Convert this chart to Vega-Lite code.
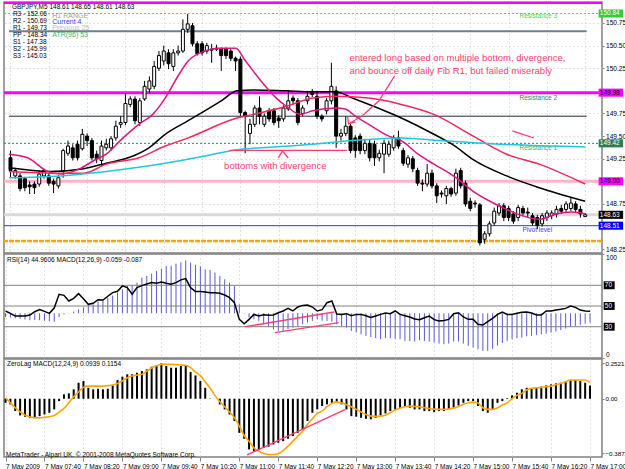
{
"$schema":"https://vega.github.io/schema/vega-lite/v6.json",
"padding":{"left":1,"top":1,"right":0,"bottom":0},
"background":"white",
"spacing":1,
"bounds":"flush",
"config":{"view":{"stroke":"#808080","strokeWidth":1.5},"font":"Liberation Sans","axis":{"labelFont":"Liberation Sans","labelFontSize":6.6,"labelColor":"#000000","tickColor":"#808080","tickSize":2,"labelPadding":1.5,"domain":false,"gridColor":"#c4c4c4","gridDash":[1,3],"title":null},"axisX":{"labelOverlap":false},"text":{"font":"Liberation Sans"}},
"datasets":{
"ohlc":[
{"i":0,"o":149.26,"h":149.34,"l":149.04,"c":149.12,"r":45.2,"m":-0.023,"z":-0.029,"s":0.007},
{"i":1,"o":149.06,"h":149.15,"l":149.03,"c":149.12,"r":42.9,"m":-0.027,"z":-0.040,"s":-0.029},
{"i":2,"o":149.06,"h":149.09,"l":148.89,"c":148.92,"r":40.3,"m":-0.032,"z":-0.088,"s":-0.064},
{"i":3,"o":149.03,"h":149.05,"l":148.89,"c":148.93,"r":40.3,"m":-0.034,"z":-0.119,"s":-0.093},
{"i":4,"o":148.96,"h":149.00,"l":148.86,"c":148.94,"r":40.3,"m":-0.040,"z":-0.128,"s":-0.117},
{"i":5,"o":148.97,"h":149.00,"l":148.86,"c":148.93,"r":41.3,"m":-0.044,"z":-0.136,"s":-0.128},
{"i":6,"o":148.97,"h":149.12,"l":148.94,"c":149.08,"r":44.5,"m":-0.042,"z":-0.136,"s":-0.136},
{"i":7,"o":149.06,"h":149.14,"l":149.03,"c":149.12,"r":46.5,"m":-0.044,"z":-0.124,"s":-0.136},
{"i":8,"o":149.06,"h":149.09,"l":148.95,"c":148.98,"r":44.8,"m":-0.048,"z":-0.112,"s":-0.133},
{"i":9,"o":149.00,"h":149.03,"l":148.87,"c":148.97,"r":42.9,"m":-0.051,"z":-0.100,"s":-0.128},
{"i":10,"o":148.95,"h":149.07,"l":148.92,"c":149.04,"r":48.0,"m":-0.055,"z":-0.076,"s":-0.119},
{"i":11,"o":149.12,"h":149.36,"l":149.04,"c":149.34,"r":61.3,"m":-0.023,"z":-0.017,"s":-0.095},
{"i":12,"o":149.31,"h":149.45,"l":149.28,"c":149.39,"r":60.3,"m":-0.008,"z":0.031,"s":-0.069},
{"i":13,"o":149.37,"h":149.41,"l":149.23,"c":149.26,"r":54.8,"m":0.002,"z":0.038,"s":-0.029},
{"i":14,"o":149.41,"h":149.45,"l":149.23,"c":149.26,"r":57.4,"m":0.011,"z":0.067,"s":0.014},
{"i":15,"o":149.36,"h":149.58,"l":149.34,"c":149.52,"r":61.9,"m":0.025,"z":0.114,"s":0.048},
{"i":16,"o":149.50,"h":149.53,"l":149.39,"c":149.45,"r":57.1,"m":0.036,"z":0.126,"s":0.081},
{"i":17,"o":149.45,"h":149.48,"l":149.23,"c":149.26,"r":51.6,"m":0.053,"z":0.078,"s":0.090},
{"i":18,"o":149.30,"h":149.34,"l":149.20,"c":149.25,"r":52.6,"m":0.057,"z":0.067,"s":0.090},
{"i":19,"o":149.23,"h":149.45,"l":149.17,"c":149.39,"r":56.1,"m":0.074,"z":0.071,"s":0.090},
{"i":20,"o":149.37,"h":149.47,"l":149.34,"c":149.41,"r":55.8,"m":0.088,"z":0.067,"s":0.090},
{"i":21,"o":149.37,"h":149.50,"l":149.34,"c":149.47,"r":59.4,"m":0.099,"z":0.071,"s":0.093},
{"i":22,"o":149.48,"h":149.67,"l":149.45,"c":149.61,"r":62.9,"m":0.112,"z":0.095,"s":0.098},
{"i":23,"o":149.63,"h":149.72,"l":149.59,"c":149.65,"r":64.2,"m":0.131,"z":0.133,"s":0.109},
{"i":24,"o":149.65,"h":149.97,"l":149.62,"c":149.86,"r":69.4,"m":0.152,"z":0.157,"s":0.128},
{"i":25,"o":149.85,"h":149.94,"l":149.82,"c":149.91,"r":67.7,"m":0.173,"z":0.174,"s":0.150},
{"i":26,"o":149.91,"h":149.94,"l":149.63,"c":149.67,"r":61.3,"m":0.177,"z":0.174,"s":0.162},
{"i":27,"o":149.65,"h":149.92,"l":149.61,"c":149.89,"r":67.7,"m":0.194,"z":0.185,"s":0.169},
{"i":28,"o":149.91,"h":150.11,"l":149.89,"c":150.05,"r":69.7,"m":0.225,"z":0.197,"s":0.174},
{"i":29,"o":150.02,"h":150.16,"l":149.98,"c":150.11,"r":71.3,"m":0.236,"z":0.209,"s":0.197},
{"i":30,"o":150.05,"h":150.33,"l":150.02,"c":150.27,"r":72.6,"m":0.251,"z":0.228,"s":0.219},
{"i":31,"o":150.25,"h":150.44,"l":150.22,"c":150.39,"r":71.9,"m":0.268,"z":0.238,"s":0.235},
{"i":32,"o":150.33,"h":150.50,"l":150.28,"c":150.44,"r":73.2,"m":0.282,"z":0.252,"s":0.245},
{"i":33,"o":150.42,"h":150.46,"l":150.24,"c":150.30,"r":71.9,"m":0.299,"z":0.233,"s":0.245},
{"i":34,"o":150.27,"h":150.46,"l":150.22,"c":150.42,"r":71.0,"m":0.301,"z":0.221,"s":0.245},
{"i":35,"o":150.42,"h":150.50,"l":150.39,"c":150.44,"r":72.6,"m":0.314,"z":0.221,"s":0.243},
{"i":36,"o":150.44,"h":150.79,"l":150.42,"c":150.68,"r":75.2,"m":0.322,"z":0.233,"s":0.240},
{"i":37,"o":150.68,"h":150.85,"l":150.64,"c":150.74,"r":76.5,"m":0.335,"z":0.233,"s":0.238},
{"i":38,"o":150.72,"h":150.75,"l":150.49,"c":150.52,"r":67.7,"m":0.320,"z":0.190,"s":0.221},
{"i":39,"o":150.52,"h":150.55,"l":150.39,"c":150.41,"r":63.9,"m":0.306,"z":0.166,"s":0.190},
{"i":40,"o":150.52,"h":150.55,"l":150.39,"c":150.42,"r":63.9,"m":0.297,"z":0.126,"s":0.166},
{"i":41,"o":150.44,"h":150.53,"l":150.41,"c":150.50,"r":63.5,"m":0.278,"z":0.078,"s":0.119},
{"i":42,"o":150.45,"h":150.52,"l":150.31,"c":150.46,"r":62.9,"m":0.274,"z":0.002,"s":0.076},
{"i":43,"o":150.46,"h":150.51,"l":150.44,"c":150.47,"r":62.9,"m":0.257,"z":0.000,"s":0.024},
{"i":44,"o":150.46,"h":150.48,"l":150.22,"c":150.39,"r":62.3,"m":0.236,"z":-0.040,"s":-0.021},
{"i":45,"o":150.46,"h":150.48,"l":150.35,"c":150.39,"r":60.6,"m":0.215,"z":-0.076,"s":-0.057},
{"i":46,"o":150.44,"h":150.46,"l":150.33,"c":150.36,"r":58.1,"m":0.194,"z":-0.112,"s":-0.095},
{"i":47,"o":150.36,"h":150.38,"l":150.22,"c":150.33,"r":53.2,"m":0.173,"z":-0.159,"s":-0.136},
{"i":48,"o":150.35,"h":150.38,"l":149.72,"c":149.76,"r":37.1,"m":0.057,"z":-0.243,"s":-0.195},
{"i":49,"o":149.76,"h":149.78,"l":149.31,"c":149.72,"r":32.9,"m":-0.002,"z":-0.285,"s":-0.262},
{"i":50,"o":149.53,"h":149.69,"l":149.41,"c":149.63,"r":37.1,"m":-0.027,"z":-0.361,"s":-0.302},
{"i":51,"o":149.63,"h":149.84,"l":149.60,"c":149.81,"r":41.9,"m":-0.038,"z":-0.373,"s":-0.350},
{"i":52,"o":149.81,"h":149.94,"l":149.63,"c":149.72,"r":40.3,"m":-0.048,"z":-0.366,"s":-0.373},
{"i":53,"o":149.63,"h":149.75,"l":149.60,"c":149.72,"r":41.6,"m":-0.070,"z":-0.350,"s":-0.390},
{"i":54,"o":149.78,"h":149.81,"l":149.66,"c":149.69,"r":41.0,"m":-0.086,"z":-0.342,"s":-0.397},
{"i":55,"o":149.78,"h":149.81,"l":149.62,"c":149.65,"r":41.3,"m":-0.101,"z":-0.326,"s":-0.397},
{"i":56,"o":149.70,"h":149.73,"l":149.59,"c":149.67,"r":43.5,"m":-0.112,"z":-0.314,"s":-0.392},
{"i":57,"o":149.69,"h":149.84,"l":149.66,"c":149.81,"r":45.2,"m":-0.112,"z":-0.302,"s":-0.369},
{"i":58,"o":149.80,"h":150.01,"l":149.78,"c":149.89,"r":47.7,"m":-0.101,"z":-0.285,"s":-0.338},
{"i":59,"o":149.92,"h":149.95,"l":149.85,"c":149.89,"r":45.2,"m":-0.091,"z":-0.266,"s":-0.302},
{"i":60,"o":149.89,"h":149.92,"l":149.62,"c":149.65,"r":49.0,"m":-0.080,"z":-0.243,"s":-0.266},
{"i":61,"o":149.75,"h":149.84,"l":149.72,"c":149.81,"r":50.6,"m":-0.070,"z":-0.219,"s":-0.231},
{"i":62,"o":149.89,"h":150.00,"l":149.85,"c":149.94,"r":51.0,"m":-0.059,"z":-0.159,"s":-0.183},
{"i":63,"o":149.98,"h":150.02,"l":149.93,"c":149.96,"r":49.0,"m":-0.048,"z":-0.100,"s":-0.143},
{"i":64,"o":149.94,"h":150.00,"l":149.69,"c":149.72,"r":45.2,"m":-0.038,"z":-0.076,"s":-0.105},
{"i":65,"o":149.72,"h":149.74,"l":149.66,"c":149.69,"r":46.5,"m":-0.048,"z":-0.052,"s":-0.088},
{"i":66,"o":149.78,"h":149.92,"l":149.74,"c":149.89,"r":53.2,"m":-0.048,"z":-0.040,"s":-0.057},
{"i":67,"o":149.89,"h":150.31,"l":149.85,"c":150.05,"r":54.8,"m":-0.053,"z":-0.029,"s":-0.033},
{"i":68,"o":150.00,"h":150.05,"l":149.37,"c":149.50,"r":42.3,"m":-0.070,"z":-0.020,"s":-0.024},
{"i":69,"o":149.50,"h":149.58,"l":149.45,"c":149.53,"r":41.9,"m":-0.082,"z":-0.040,"s":-0.031},
{"i":70,"o":149.53,"h":149.72,"l":149.50,"c":149.61,"r":42.6,"m":-0.091,"z":-0.076,"s":-0.043},
{"i":71,"o":149.61,"h":149.64,"l":149.31,"c":149.34,"r":40.6,"m":-0.112,"z":-0.124,"s":-0.057},
{"i":72,"o":149.48,"h":149.51,"l":149.26,"c":149.34,"r":41.9,"m":-0.122,"z":-0.128,"s":-0.076},
{"i":73,"o":149.50,"h":149.53,"l":149.30,"c":149.34,"r":41.9,"m":-0.133,"z":-0.136,"s":-0.095},
{"i":74,"o":149.34,"h":149.47,"l":149.30,"c":149.42,"r":40.6,"m":-0.143,"z":-0.143,"s":-0.112},
{"i":75,"o":149.42,"h":149.46,"l":149.22,"c":149.26,"r":39.0,"m":-0.150,"z":-0.147,"s":-0.124},
{"i":76,"o":149.41,"h":149.45,"l":149.17,"c":149.26,"r":40.3,"m":-0.158,"z":-0.136,"s":-0.126},
{"i":77,"o":149.26,"h":149.35,"l":149.22,"c":149.31,"r":41.9,"m":-0.164,"z":-0.119,"s":-0.124},
{"i":78,"o":149.30,"h":149.46,"l":149.09,"c":149.42,"r":43.2,"m":-0.158,"z":-0.105,"s":-0.117},
{"i":79,"o":149.30,"h":149.45,"l":149.27,"c":149.41,"r":42.6,"m":-0.158,"z":-0.088,"s":-0.100},
{"i":80,"o":149.37,"h":149.51,"l":149.34,"c":149.48,"r":45.2,"m":-0.162,"z":-0.076,"s":-0.081},
{"i":81,"o":149.48,"h":149.56,"l":149.36,"c":149.39,"r":41.9,"m":-0.164,"z":-0.064,"s":-0.067},
{"i":82,"o":149.34,"h":149.37,"l":149.17,"c":149.20,"r":40.6,"m":-0.175,"z":-0.057,"s":-0.057},
{"i":83,"o":149.19,"h":149.29,"l":149.15,"c":149.26,"r":39.4,"m":-0.175,"z":-0.064,"s":-0.052},
{"i":84,"o":149.25,"h":149.28,"l":149.10,"c":149.14,"r":37.4,"m":-0.179,"z":-0.076,"s":-0.055},
{"i":85,"o":149.12,"h":149.15,"l":148.95,"c":148.98,"r":36.8,"m":-0.171,"z":-0.076,"s":-0.057},
{"i":86,"o":148.98,"h":149.02,"l":148.89,"c":148.97,"r":38.7,"m":-0.175,"z":-0.088,"s":-0.064},
{"i":87,"o":148.97,"h":149.19,"l":148.94,"c":149.09,"r":40.3,"m":-0.179,"z":-0.088,"s":-0.069},
{"i":88,"o":149.09,"h":149.13,"l":148.92,"c":148.95,"r":36.8,"m":-0.185,"z":-0.095,"s":-0.074},
{"i":89,"o":148.95,"h":148.98,"l":148.76,"c":148.84,"r":35.5,"m":-0.192,"z":-0.088,"s":-0.076},
{"i":90,"o":148.87,"h":148.90,"l":148.82,"c":148.86,"r":36.1,"m":-0.196,"z":-0.088,"s":-0.076},
{"i":91,"o":148.84,"h":148.95,"l":148.75,"c":148.92,"r":37.1,"m":-0.192,"z":-0.076,"s":-0.074},
{"i":92,"o":148.92,"h":148.94,"l":148.83,"c":148.86,"r":42.6,"m":-0.179,"z":-0.064,"s":-0.067},
{"i":93,"o":148.87,"h":149.14,"l":148.84,"c":149.09,"r":43.5,"m":-0.179,"z":-0.048,"s":-0.055},
{"i":94,"o":149.12,"h":149.15,"l":148.92,"c":148.95,"r":39.4,"m":-0.192,"z":-0.029,"s":-0.040},
{"i":95,"o":148.98,"h":149.01,"l":148.72,"c":148.75,"r":37.1,"m":-0.206,"z":-0.017,"s":-0.029},
{"i":96,"o":148.78,"h":148.82,"l":148.67,"c":148.70,"r":37.1,"m":-0.217,"z":-0.017,"s":-0.024},
{"i":97,"o":148.76,"h":148.79,"l":148.71,"c":148.75,"r":32.3,"m":-0.228,"z":-0.052,"s":-0.031},
{"i":98,"o":148.74,"h":148.76,"l":148.29,"c":148.32,"r":31.6,"m":-0.238,"z":-0.088,"s":-0.064},
{"i":99,"o":148.36,"h":148.45,"l":148.31,"c":148.42,"r":34.8,"m":-0.238,"z":-0.100,"s":-0.076},
{"i":100,"o":148.42,"h":148.56,"l":148.39,"c":148.53,"r":38.1,"m":-0.225,"z":-0.076,"s":-0.076},
{"i":101,"o":148.54,"h":148.71,"l":148.51,"c":148.67,"r":41.9,"m":-0.204,"z":-0.029,"s":-0.064},
{"i":102,"o":148.65,"h":148.76,"l":148.62,"c":148.73,"r":44.2,"m":-0.188,"z":-0.017,"s":-0.045},
{"i":103,"o":148.73,"h":148.76,"l":148.56,"c":148.60,"r":41.9,"m":-0.175,"z":0.005,"s":-0.029},
{"i":104,"o":148.70,"h":148.73,"l":148.56,"c":148.60,"r":41.9,"m":-0.164,"z":0.024,"s":0.000},
{"i":105,"o":148.64,"h":148.67,"l":148.53,"c":148.56,"r":42.9,"m":-0.158,"z":0.043,"s":0.024},
{"i":106,"o":148.60,"h":148.74,"l":148.56,"c":148.71,"r":43.9,"m":-0.154,"z":0.067,"s":0.038},
{"i":107,"o":148.70,"h":148.73,"l":148.62,"c":148.65,"r":44.2,"m":-0.145,"z":0.078,"s":0.062},
{"i":108,"o":148.66,"h":148.71,"l":148.60,"c":148.65,"r":43.2,"m":-0.143,"z":0.071,"s":0.074},
{"i":109,"o":148.62,"h":148.65,"l":148.51,"c":148.54,"r":41.3,"m":-0.137,"z":0.078,"s":0.078},
{"i":110,"o":148.60,"h":148.63,"l":148.47,"c":148.51,"r":41.3,"m":-0.133,"z":0.086,"s":0.081},
{"i":111,"o":148.53,"h":148.65,"l":148.50,"c":148.62,"r":45.2,"m":-0.129,"z":0.095,"s":0.086},
{"i":112,"o":148.60,"h":148.68,"l":148.56,"c":148.65,"r":45.2,"m":-0.122,"z":0.102,"s":0.090},
{"i":113,"o":148.62,"h":148.68,"l":148.58,"c":148.65,"r":46.1,"m":-0.116,"z":0.109,"s":0.100},
{"i":114,"o":148.64,"h":148.73,"l":148.60,"c":148.69,"r":46.8,"m":-0.107,"z":0.114,"s":0.109},
{"i":115,"o":148.70,"h":148.74,"l":148.64,"c":148.67,"r":47.7,"m":-0.097,"z":0.126,"s":0.121},
{"i":116,"o":148.69,"h":148.78,"l":148.66,"c":148.75,"r":50.0,"m":-0.086,"z":0.133,"s":0.133},
{"i":117,"o":148.70,"h":148.82,"l":148.67,"c":148.76,"r":48.7,"m":-0.080,"z":0.133,"s":0.133},
{"i":118,"o":148.75,"h":148.78,"l":148.66,"c":148.69,"r":46.1,"m":-0.074,"z":0.126,"s":0.133},
{"i":119,"o":148.69,"h":148.73,"l":148.60,"c":148.64,"r":45.2,"m":-0.065,"z":0.114,"s":0.133},
{"i":120,"o":148.61,"h":148.65,"l":148.61,"c":148.63,"r":44.96,"m":-0.059,"z":0.094,"s":0.115}
],
"ma":[
{"k":"black","i":-0.3,"v":149.15},{"k":"black","i":8.3,"v":149.11},{"k":"black","i":15.3,"v":149.14},{"k":"black","i":20,"v":149.20},{"k":"black","i":25.6,"v":149.28},{"k":"black","i":28.9,"v":149.37},{"k":"black","i":32.3,"v":149.52},{"k":"black","i":37.1,"v":149.67},{"k":"black","i":44,"v":149.89},{"k":"black","i":47.3,"v":150.00},{"k":"black","i":50.8,"v":150.01},{"k":"black","i":57.6,"v":150.00},{"k":"black","i":63.1,"v":149.99},{"k":"black","i":67.9,"v":149.99},{"k":"black","i":71.4,"v":149.92},{"k":"black","i":78.1,"v":149.78},{"k":"black","i":81.6,"v":149.70},{"k":"black","i":88.4,"v":149.52},{"k":"black","i":92.5,"v":149.40},{"k":"black","i":96.6,"v":149.24},{"k":"black","i":103.6,"v":149.06},{"k":"black","i":110.4,"v":148.93},{"k":"black","i":120,"v":148.78},
{"k":"pink","i":-0.3,"v":149.30},{"k":"pink","i":3.6,"v":149.26},{"k":"pink","i":7.7,"v":149.11},{"k":"pink","i":10.4,"v":149.08},{"k":"pink","i":14.5,"v":149.14},{"k":"pink","i":17.4,"v":149.23},{"k":"pink","i":20,"v":149.30},{"k":"pink","i":23.5,"v":149.48},{"k":"pink","i":26.8,"v":149.63},{"k":"pink","i":29.7,"v":149.74},{"k":"pink","i":32.3,"v":149.92},{"k":"pink","i":35.4,"v":150.20},{"k":"pink","i":37.1,"v":150.33},{"k":"pink","i":40.6,"v":150.44},{"k":"pink","i":43.2,"v":150.47},{"k":"pink","i":47.1,"v":150.47},{"k":"pink","i":48.8,"v":150.35},{"k":"pink","i":52.3,"v":150.11},{"k":"pink","i":55.5,"v":149.92},{"k":"pink","i":57.6,"v":149.83},{"k":"pink","i":60.5,"v":149.74},{"k":"pink","i":63.1,"v":149.78},{"k":"pink","i":67.9,"v":149.81},{"k":"pink","i":69.9,"v":149.80},{"k":"pink","i":72,"v":149.72},{"k":"pink","i":74.8,"v":149.63},{"k":"pink","i":79,"v":149.50},{"k":"pink","i":81.6,"v":149.45},{"k":"pink","i":85.1,"v":149.30},{"k":"pink","i":88.4,"v":149.19},{"k":"pink","i":91.9,"v":149.08},{"k":"pink","i":93.3,"v":149.03},{"k":"pink","i":96.6,"v":148.89},{"k":"pink","i":100.1,"v":148.78},{"k":"pink","i":103.6,"v":148.69},{"k":"pink","i":106.9,"v":148.62},{"k":"pink","i":110.4,"v":148.58},{"k":"pink","i":113.9,"v":148.64},{"k":"pink","i":117.2,"v":148.66},{"k":"pink","i":120,"v":148.64},
{"k":"red","i":-0.3,"v":149.11},{"k":"red","i":10.4,"v":149.09},{"k":"red","i":15.3,"v":149.09},{"k":"red","i":20,"v":149.19},{"k":"red","i":26.8,"v":149.26},{"k":"red","i":32.3,"v":149.39},{"k":"red","i":37.1,"v":149.48},{"k":"red","i":47.3,"v":149.70},{"k":"red","i":50.8,"v":149.74},{"k":"red","i":57.6,"v":149.83},{"k":"red","i":63.1,"v":149.92},{"k":"red","i":67.9,"v":149.94},{"k":"red","i":74.8,"v":149.92},{"k":"red","i":81.6,"v":149.85},{"k":"red","i":88.4,"v":149.74},{"k":"red","i":96.6,"v":149.50},{"k":"red","i":103.6,"v":149.30},{"k":"red","i":110.4,"v":149.19},{"k":"red","i":120,"v":148.97},
{"k":"cyan","i":-0.3,"v":149.04},{"k":"cyan","i":10.4,"v":149.06},{"k":"cyan","i":20,"v":149.11},{"k":"cyan","i":32.3,"v":149.20},{"k":"cyan","i":40.6,"v":149.28},{"k":"cyan","i":47.3,"v":149.35},{"k":"cyan","i":55,"v":149.38},{"k":"cyan","i":63.1,"v":149.41},{"k":"cyan","i":71.4,"v":149.45},{"k":"cyan","i":81.6,"v":149.48},{"k":"cyan","i":89.8,"v":149.45},{"k":"cyan","i":102.2,"v":149.41},{"k":"cyan","i":120,"v":149.38}
],
"anno":[
{"g":"arrow","i":70.9,"v":149.645},{"g":"arrow","i":73.4,"v":149.722},{"g":"arrow","i":76.9,"v":149.888},{"g":"arrow","i":78.9,"v":150.054},{"g":"arrow","i":80.2,"v":150.164},
{"g":"head","i":70.4,"v":149.711},{"g":"head","i":70.6,"v":149.634},{"g":"head","i":72.0,"v":149.656},
{"g":"bot","i":45.7,"v":149.343},{"g":"bot","i":70.3,"v":149.343},
{"g":"caret","i":55.9,"v":149.258},{"g":"caret","i":56.8,"v":149.336},{"g":"caret","i":58.0,"v":149.258},
{"g":"short","i":104.8,"v":149.557},{"g":"short","i":109.3,"v":149.479}
],
"ranno":[
{"g":"a","i":49.2,"v":30.0},{"g":"a","i":67.5,"v":44.2},
{"g":"b","i":55.3,"v":24.2},{"g":"b","i":68.4,"v":33.9}
],
"zanno":[
{"g":"a","i":49.6,"v":-0.40},{"g":"a","i":69.8,"v":-0.076}
],
"boxes":[
{"v":150.855,"t":"150.84","k":"g"},
{"v":149.98,"t":"149.98","k":"m"},
{"v":149.42,"t":"149.42","k":"dg"},
{"v":149.00,"t":"149.00","k":"m"},
{"v":148.63,"t":"148.63","k":"k"},
{"v":148.51,"t":"148.51","k":"b"}
],
"rbox":[{"v":70,"t":"70"},{"v":50,"t":"50"},{"v":30,"t":"30"}]
},
"vconcat":[
{
"width":598,"height":251,
"resolve":{"scale":{"color":"independent"}},
"layer":[
{"data":{"values":[{}]},"mark":{"type":"rule","color":"#FF00FF","strokeWidth":2},"encoding":{"y":{"datum":150.972}}},
{"data":{"values":[{}]},"mark":{"type":"rule","color":"#5FD35F","strokeWidth":1,"strokeDash":[2,2]},"encoding":{"y":{"datum":150.855}}},
{"data":{"values":[{}]},"mark":{"type":"rule","color":"#6E7F8F","strokeWidth":2},"encoding":{"x":{"datum":-0.31},"x2":{"datum":120.3},"y":{"datum":150.66}}},
{"data":{"values":[{}]},"mark":{"type":"rule","color":"#FF00FF","strokeWidth":3},"encoding":{"y":{"datum":149.98}}},
{"data":{"values":[{}]},"mark":{"type":"rule","color":"#1C2B45","strokeWidth":1},"encoding":{"x":{"datum":-0.31},"x2":{"datum":120.3},"y":{"datum":149.72}}},
{"data":{"values":[{}]},"mark":{"type":"rule","color":"#2E8B57","strokeWidth":1,"strokeDash":[2,2]},"encoding":{"y":{"datum":149.42}}},
{"data":{"values":[{}]},"mark":{"type":"rule","color":"#FFB3C8","strokeWidth":3},"encoding":{"y":{"datum":149.0}}},
{"data":{"values":[{}]},"mark":{"type":"rule","color":"#D9D9D9","strokeWidth":3},"encoding":{"y":{"datum":148.63}}},
{"data":{"values":[{}]},"mark":{"type":"rule","color":"#3333FF","strokeWidth":1},"encoding":{"y":{"datum":148.51}}},
{"data":{"values":[{}]},"mark":{"type":"rule","color":"#FFA500","strokeWidth":2.5,"strokeDash":[5,1]},"encoding":{"y":{"datum":148.34}}},
{"data":{"name":"ohlc"},"mark":{"type":"rule","color":"#000000","strokeWidth":1},
 "encoding":{
  "x":{"field":"i","type":"quantitative","scale":{"domain":[-0.31,122.46],"nice":false,"zero":false},"axis":{"values":[0,8,16,24,32,40,48,56,64,72,80,88,96,104,112,120],"tickCount":40,"labels":false,"ticks":false,"grid":true}},
  "y":{"field":"l","type":"quantitative","scale":{"domain":[148.208,150.982],"nice":false,"zero":false},"axis":{"orient":"right","values":[148.25,148.75,149.25,149.5,149.75,150.25,150.5,150.75],"tickCount":40,"format":".2f","grid":true}},
  "y2":{"field":"h"}}},
{"data":{"name":"ohlc"},"mark":{"type":"bar","width":3,"stroke":"#000000","strokeWidth":1},
 "encoding":{"x":{"field":"i","type":"quantitative"},"y":{"field":"o","type":"quantitative"},"y2":{"field":"c"},
  "fill":{"condition":{"test":"datum.c < datum.o","value":"#000000"},"value":"#FFFFFF"}}},
{"data":{"name":"ma"},"mark":{"type":"line","strokeWidth":1.5,"interpolate":"monotone"},
 "encoding":{"x":{"field":"i","type":"quantitative"},"y":{"field":"v","type":"quantitative"},
  "color":{"field":"k","type":"nominal","scale":{"domain":["black","pink","red","cyan"],"range":["#000000","#E0157F","#F2285A","#20C8DC"]},"legend":null}}},
{"data":{"name":"anno"},"mark":{"type":"line","color":"#FF3D6E","strokeWidth":1.3},
 "encoding":{"x":{"field":"i","type":"quantitative"},"y":{"field":"v","type":"quantitative"},"detail":{"field":"g","type":"nominal"}}},
{"data":{"values":[{}]},"mark":{"type":"text","text":"GBPJPY,M5  148.61 148.65 148.61 148.63","align":"left","baseline":"middle","fontSize":6.5,"color":"#000000"},"encoding":{"x":{"datum":0.31},"y":{"datum":150.93}}},
{"data":{"values":[{}]},"mark":{"type":"text","text":["R3 - 152.06","R2 - 150.69","R1 - 149.73","PP - 148.34","S1 - 147.38","S2 - 145.99","S3 - 145.03"],"lineHeight":7.1,"align":"left","baseline":"top","fontSize":6.5,"color":"#000000"},"encoding":{"x":{"datum":0.51},"y":{"datum":150.884}}},
{"data":{"values":[{}]},"mark":{"type":"text","text":"H1 RANGE","align":"left","baseline":"middle","fontSize":7,"color":"#A0A0A0"},"encoding":{"x":{"datum":8.73},"y":{"datum":150.831}}},
{"data":{"values":[{}]},"mark":{"type":"text","text":"Current 4","align":"left","baseline":"middle","fontSize":7,"color":"#3B3BFF"},"encoding":{"x":{"datum":8.73},"y":{"datum":150.761}}},
{"data":{"values":[{}]},"mark":{"type":"text","text":"Previous 25","align":"left","baseline":"middle","fontSize":7,"color":"#BDBDBD"},"encoding":{"x":{"datum":8.73},"y":{"datum":150.695}}},
{"data":{"values":[{}]},"mark":{"type":"text","text":"ATR(96) 53","align":"left","baseline":"middle","fontSize":7,"color":"#3CB371"},"encoding":{"x":{"datum":8.73},"y":{"datum":150.621}}},
{"data":{"values":[{}]},"mark":{"type":"text","text":"entered long based on multiple bottom, divergence,","align":"left","baseline":"middle","fontSize":9.5,"color":"#FF4070"},"encoding":{"x":{"datum":70.76},"y":{"datum":150.366}}},
{"data":{"values":[{}]},"mark":{"type":"text","text":"and bounce off daily Fib R1, but failed miserably","align":"left","baseline":"middle","fontSize":9.5,"color":"#FF4070"},"encoding":{"x":{"datum":70.76},"y":{"datum":150.223}}},
{"data":{"values":[{}]},"mark":{"type":"text","text":"bottoms with divergence","align":"left","baseline":"middle","fontSize":9.5,"color":"#FF4070"},"encoding":{"x":{"datum":44.6},"y":{"datum":149.169}}},
{"data":{"values":[{}]},"mark":{"type":"text","text":"Resistance 3","align":"left","baseline":"middle","fontSize":6.5,"color":"#4CD34C"},"encoding":{"x":{"datum":106.29},"y":{"datum":150.827}}},
{"data":{"values":[{}]},"mark":{"type":"text","text":"Resistance 2","align":"left","baseline":"middle","fontSize":6.5,"color":"#2E8B57"},"encoding":{"x":{"datum":106.29},"y":{"datum":149.921}}},
{"data":{"values":[{}]},"mark":{"type":"text","text":"Resistance 1","align":"left","baseline":"middle","fontSize":6.5,"color":"#3CB371"},"encoding":{"x":{"datum":106.29},"y":{"datum":149.368}}},
{"data":{"values":[{}]},"mark":{"type":"text","text":"Pivot level","align":"left","baseline":"middle","fontSize":6.5,"color":"#3B3BFF"},"encoding":{"x":{"datum":106.91},"y":{"datum":148.465}}},
{"data":{"name":"boxes"},"mark":{"type":"point","shape":"M0,-0.33H2V0.33H0Z","size":600,"filled":true,"opacity":1,"strokeWidth":0},
 "encoding":{"x":{"datum":122.8},"y":{"field":"v","type":"quantitative"},
  "color":{"field":"k","type":"nominal","scale":{"domain":["g","m","dg","k","b"],"range":["#3CC83C","#FF00FF","#2E7D4F","#000000","#0000FF"]},"legend":null}}},
{"data":{"name":"boxes"},"mark":{"type":"text","align":"left","baseline":"middle","fontSize":6.5},
 "encoding":{"x":{"datum":123.05},"y":{"field":"v","type":"quantitative"},"text":{"field":"t"},
  "color":{"condition":{"test":"datum.k=='m'","value":"#000000"},"value":"#FFFFFF"}}}
]
},
{
"width":598,"height":104,
"resolve":{"scale":{"y":"independent"}},
"layer":[
{"data":{"name":"ohlc"},"mark":{"type":"rule","color":"#5A5AD2","strokeWidth":1},
 "encoding":{
  "x":{"field":"i","type":"quantitative","scale":{"domain":[-0.31,122.46],"nice":false,"zero":false},"axis":{"values":[0,8,16,24,32,40,48,56,64,72,80,88,96,104,112,120],"tickCount":40,"labels":false,"ticks":false,"grid":true}},
  "y":{"field":"m","type":"quantitative","scale":{"domain":[-0.283,0.375],"nice":false,"zero":false},"axis":null},
  "y2":{"datum":0}}},
{"layer":[
 {"data":{"values":[{}]},"mark":{"type":"rule","color":"#808080","strokeWidth":1},"encoding":{"y":{"datum":70}}},
 {"data":{"values":[{}]},"mark":{"type":"rule","color":"#808080","strokeWidth":1},"encoding":{"y":{"datum":50}}},
 {"data":{"values":[{}]},"mark":{"type":"rule","color":"#808080","strokeWidth":1},"encoding":{"y":{"datum":30}}},
 {"data":{"name":"ohlc"},"mark":{"type":"line","color":"#000000","strokeWidth":1.5},
  "encoding":{"x":{"field":"i","type":"quantitative"},"y":{"field":"r","type":"quantitative","scale":{"domain":[-0.2,100.2],"nice":false,"zero":false},"axis":{"orient":"right","values":[100,0],"labelFlush":true,"grid":false}}}},
 {"data":{"name":"ranno"},"mark":{"type":"line","color":"#FF3D6E","strokeWidth":1.3},
  "encoding":{"x":{"field":"i","type":"quantitative"},"y":{"field":"v","type":"quantitative"},"detail":{"field":"g","type":"nominal"}}},
 {"data":{"values":[{}]},"mark":{"type":"text","text":"RSI(14) 44.9606   MACD(12,26,9) -0.059 -0.087","align":"left","baseline":"middle","fontSize":6.5,"color":"#000000"},"encoding":{"x":{"datum":0.31},"y":{"datum":94}}},
 {"data":{"name":"rbox"},"mark":{"type":"point","shape":"M0,-0.36H1V0.36H0Z","size":484,"filled":true,"opacity":1,"strokeWidth":0,"color":"#000000"},
  "encoding":{"x":{"datum":122.8},"y":{"field":"v","type":"quantitative"}}},
 {"data":{"name":"rbox"},"mark":{"type":"text","align":"left","baseline":"middle","fontSize":6.5,"color":"#FFFFFF"},
  "encoding":{"x":{"datum":123.05},"y":{"field":"v","type":"quantitative"},"text":{"field":"t"}}}
]}
]
},
{
"width":598,"height":98,
"layer":[
{"data":{"name":"ohlc"},"mark":{"type":"rule","color":"#000000","strokeWidth":2},
 "encoding":{
  "x":{"field":"i","type":"quantitative","scale":{"domain":[-0.31,122.46],"nice":false,"zero":false},
   "axis":{"values":[0,8,16,24,32,40,48,56,64,72,80,88,96,104,112,120],"tickCount":40,"grid":true,"labelAlign":"left","tickSize":4,"labelPadding":2,"labelFontSize":6.5,"labelOverlap":false,"labelBound":false,"labelFlush":false,
    "labelExpr":"datum.value == 0 ? '7 May 2009' : '7 May ' + (floor(datum.value/12)+7 < 10 ? '0' : '') + (floor(datum.value/12)+7) + ':' + ((datum.value%12)*5 < 10 ? '0' : '') + ((datum.value%12)*5)"}},
  "y":{"field":"z","type":"quantitative","scale":{"domain":[-0.415,0.283],"nice":false,"zero":false},
   "axis":{"orient":"right","values":[0.2521,0,-0.3872],"tickCount":10,"grid":false,"labelFontSize":6.2,"labelPadding":1,"labelExpr":"datum.value == 0 ? '0.00' : format(datum.value, '.4f')"}},
  "y2":{"datum":0}}},
{"data":{"name":"ohlc"},"mark":{"type":"line","color":"#FFA500","strokeWidth":1.6,"interpolate":"monotone"},
 "encoding":{"x":{"field":"i","type":"quantitative"},"y":{"field":"s","type":"quantitative"}}},
{"data":{"name":"zanno"},"mark":{"type":"line","color":"#FF3D6E","strokeWidth":1.3},
 "encoding":{"x":{"field":"i","type":"quantitative"},"y":{"field":"v","type":"quantitative"},"detail":{"field":"g","type":"nominal"}}},
{"data":{"values":[{}]},"mark":{"type":"text","text":"ZeroLag MACD(12,24,9) 0.0939 0.1154","align":"left","baseline":"middle","fontSize":6.5,"color":"#000000"},"encoding":{"x":{"datum":0.31},"y":{"datum":0.245}}},
{"data":{"values":[{}]},"mark":{"type":"text","text":"MetaTrader - Alpari UK. © 2001-2008 MetaQuotes Software Corp.","align":"left","baseline":"middle","fontSize":6.5,"color":"#000000"},"encoding":{"x":{"datum":0.1},"y":{"datum":-0.398}}}
]
}
]
}
